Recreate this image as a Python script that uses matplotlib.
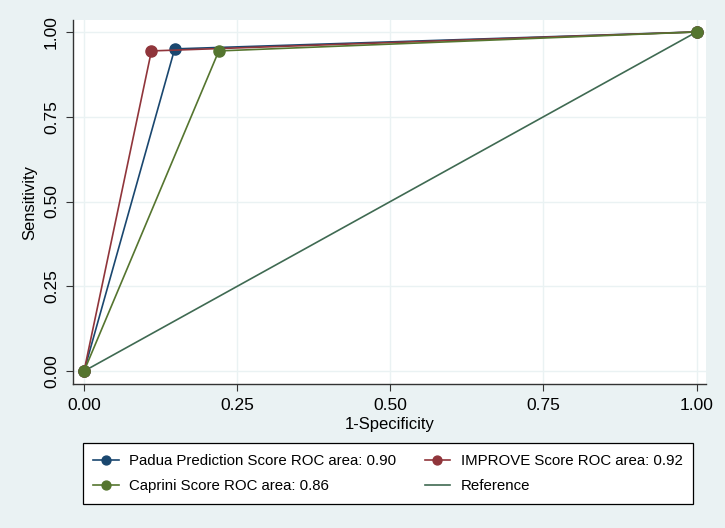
import matplotlib.pyplot as plt

plt.rcParams['font.family'] = ['Liberation Sans', 'DejaVu Sans']

# --- ROC data ---
padua_fpr = [0.0, 0.148, 1.0]
padua_tpr = [0.0, 0.950, 1.0]
improve_fpr = [0.0, 0.110, 1.0]
improve_tpr = [0.0, 0.944, 1.0]
caprini_fpr = [0.0, 0.220, 1.0]
caprini_tpr = [0.0, 0.944, 1.0]
ref_x = [0.0, 1.0]
ref_y = [0.0, 1.0]

ticks = [0.0, 0.25, 0.5, 0.75, 1.0]
tick_labels = ["0.00", "0.25", "0.50", "0.75", "1.00"]

labels = ["Padua Prediction Score ROC area: 0.90",
          "IMPROVE Score ROC area: 0.92",
          "Caprini Score ROC area: 0.86",
          "Reference"]

bg = '#EAF2F3'
navy = '#1A476F'
maroon = '#90353B'
green = '#55752F'
refc = '#3F6A52'

fig = plt.figure(figsize=(7.25, 5.28), dpi=100, facecolor=bg)
ax = fig.add_axes([0.1007, 0.2727, 0.8733, 0.6893])
ax.set_facecolor('white')

h1, = ax.plot(padua_fpr, padua_tpr, '-o', color=navy, lw=1.2, ms=8, zorder=3)
h2, = ax.plot(improve_fpr, improve_tpr, '-o', color=maroon, lw=1.2, ms=8, zorder=3)
h3, = ax.plot(caprini_fpr, caprini_tpr, '-o', color=green, lw=1.2, ms=8, zorder=3)
h4, = ax.plot(ref_x, ref_y, '-', color=refc, lw=1.2, zorder=2)

ax.set_xlim(-0.018, 1.0155)
ax.set_ylim(-0.038, 1.035)
ax.set_xticks(ticks)
ax.set_xticklabels(tick_labels)
ax.set_yticks(ticks)
ax.set_yticklabels(tick_labels, rotation=90, va='center')
ax.tick_params(labelsize=12.5, length=5, color='#333333', direction='out', pad=5)
ax.grid(True, color=bg, lw=1.0)
ax.set_axisbelow(True)

for s in ['top', 'right']:
    ax.spines[s].set_visible(False)
for s in ['left', 'bottom']:
    ax.spines[s].set_color('#333333')
    ax.spines[s].set_linewidth(1.0)

ax.set_xlabel("1-Specificity", fontsize=12, labelpad=3)
ax.set_ylabel("Sensitivity", fontsize=12, labelpad=5)

leg = fig.legend([h1, h3, h2, h4], [labels[0], labels[2], labels[1], labels[3]],
                 ncol=2, loc='center', bbox_to_anchor=(0.114, 0.05, 0.842, 0.106),
                 mode='expand', fontsize=10.8, frameon=True, fancybox=False,
                 edgecolor='black', framealpha=1, handlelength=1.7,
                 handletextpad=0.7, markerscale=0.8, borderpad=0.7,
                 borderaxespad=0, labelspacing=0.75)
leg.get_frame().set_linewidth(0.9)

fig.savefig("out.png", dpi=100, facecolor=bg)
